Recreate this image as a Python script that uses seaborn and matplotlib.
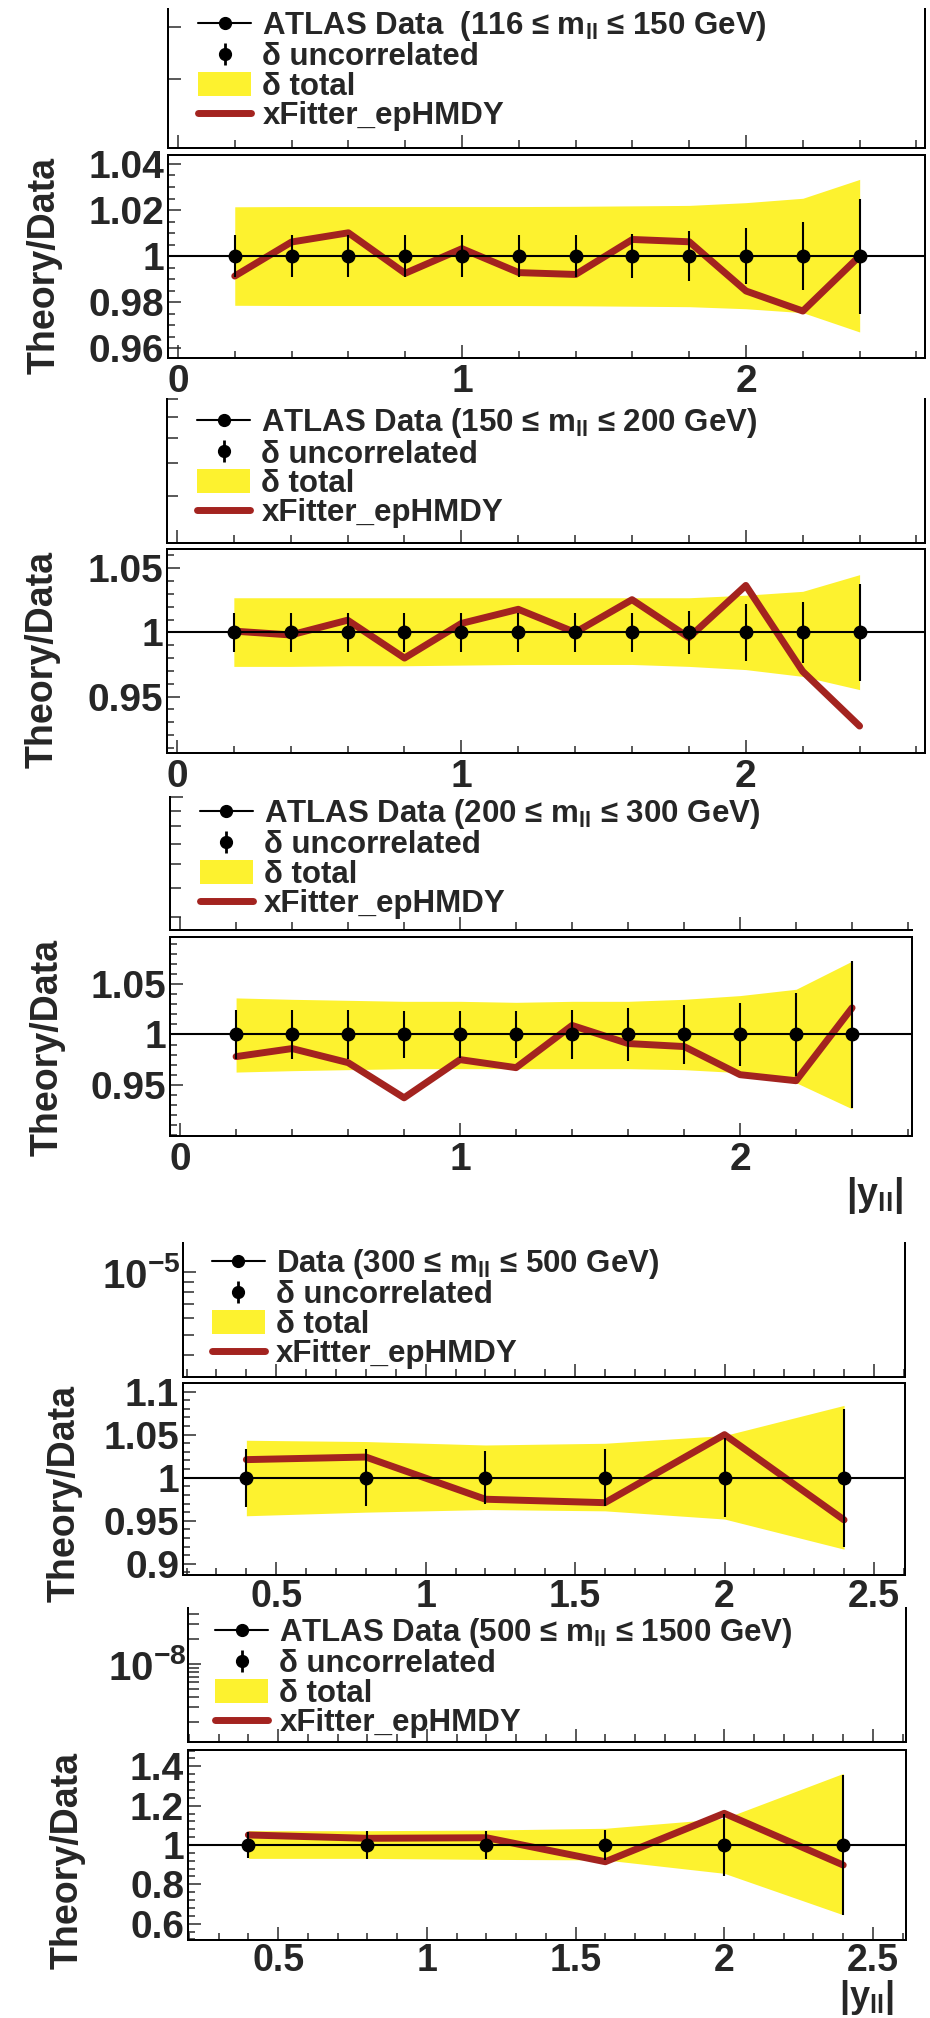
import numpy as np
import pandas as pd
import matplotlib
matplotlib.use("Agg")
import matplotlib.pyplot as plt
import seaborn as sns
from matplotlib.lines import Line2D
from matplotlib.patches import Patch
from matplotlib.legend_handler import HandlerTuple
from matplotlib.ticker import MultipleLocator, FixedLocator, LogLocator, NullFormatter, FuncFormatter, NullLocator

sns.set_style("ticks")
plt.rcParams["font.family"] = ["Liberation Sans", "DejaVu Sans"]
plt.rcParams["font.weight"] = "bold"
plt.rcParams["mathtext.default"] = "regular"

# ---------------- data ----------------
x_fine = [0.2, 0.4, 0.6, 0.8, 1.0, 1.2, 1.4, 1.6, 1.8, 2.0, 2.2, 2.4]
x_coarse = [0.4, 0.8, 1.2, 1.6, 2.0, 2.4]

theory1 = [0.9913, 1.0061, 1.0101, 0.9925, 1.0032, 0.9928, 0.9920, 1.0072, 1.0062, 0.9848, 0.9761, 1.0000]
band1_hi = [1.0214, 1.0215, 1.0215, 1.0215, 1.0215, 1.0215, 1.0216, 1.0218, 1.0220, 1.0232, 1.0251, 1.0333]
band1_lo = [0.9786, 0.9785, 0.9785, 0.9785, 0.9785, 0.9785, 0.9784, 0.9782, 0.9780, 0.9771, 0.9754, 0.9670]
unc1 = [0.009, 0.009, 0.009, 0.009, 0.009, 0.009, 0.009, 0.0095, 0.011, 0.0123, 0.0148, 0.025]

theory2 = [1.001, 0.998, 1.0095, 0.980, 1.007, 1.018, 1.000, 1.0255, 0.996, 1.0366, 0.9696, 0.927]
band2_hi = [1.027, 1.027, 1.027, 1.027, 1.027, 1.027, 1.027, 1.027, 1.027, 1.029, 1.032, 1.045]
band2_lo = [0.9735, 0.9735, 0.974, 0.974, 0.9745, 0.975, 0.975, 0.975, 0.9735, 0.971, 0.9657, 0.9554]
unc2 = [0.0152, 0.0152, 0.0152, 0.015, 0.015, 0.015, 0.015, 0.015, 0.017, 0.022, 0.024, 0.038]

theory3 = [0.978, 0.986, 0.972, 0.937, 0.975, 0.967, 1.009, 0.991, 0.988, 0.960, 0.954, 1.0265]
band3_hi = [1.0364, 1.035, 1.034, 1.033, 1.033, 1.032, 1.033, 1.033, 1.035, 1.0387, 1.045, 1.073]
band3_lo = [0.9626, 0.964, 0.965, 0.966, 0.966, 0.966, 0.966, 0.966, 0.965, 0.962, 0.952, 0.926]
unc3 = [0.024, 0.024, 0.024, 0.023, 0.023, 0.023, 0.024, 0.026, 0.029, 0.031, 0.041, 0.073]

theory4 = [1.021, 1.024, 0.975, 0.971, 1.050, 0.951]
band4_hi = [1.0435, 1.042, 1.038, 1.040, 1.049, 1.084]
band4_lo = [0.9558, 0.960, 0.963, 0.9615, 0.952, 0.917]
unc4 = [0.0335, 0.033, 0.031, 0.033, 0.046, 0.080]

theory5 = [1.051, 1.034, 1.037, 0.915, 1.161, 0.898]
band5_hi = [1.0727, 1.0727, 1.076, 1.085, 1.135, 1.364]
band5_lo = [0.932, 0.932, 0.927, 0.924, 0.856, 0.645]
unc5 = [0.064, 0.070, 0.072, 0.076, 0.160, 0.358]

legend_labels = [
    "ATLAS Data  (116 \u2264 m$_{ll}$ \u2264 150 GeV)",
    "ATLAS Data (150 \u2264 m$_{ll}$ \u2264 200 GeV)",
    "ATLAS Data (200 \u2264 m$_{ll}$ \u2264 300 GeV)",
    "Data (300 \u2264 m$_{ll}$ \u2264 500 GeV)",
    "ATLAS Data (500 \u2264 m$_{ll}$ \u2264 1500 GeV)",
]
ratio_ticks = [
    [0.96, 0.98, 1.0, 1.02, 1.04],
    [0.95, 1.0, 1.05],
    [0.95, 1.0, 1.05],
    [0.9, 0.95, 1.0, 1.05, 1.1],
    [0.6, 0.8, 1.0, 1.2, 1.4],
]
ratio_tick_labels = [
    ["0.96", "0.98", "1", "1.02", "1.04"],
    ["0.95", "1", "1.05"],
    ["0.95", "1", "1.05"],
    ["0.9", "0.95", "1", "1.05", "1.1"],
    ["0.6", "0.8", "1", "1.2", "1.4"],
]
upper_decades = [None, None, None, 1e-5, 1e-8]
x_tick_vals_a = [0, 1, 2]
x_tick_labs_a = ["0", "1", "2"]
x_tick_vals_b = [0.5, 1.0, 1.5, 2.0, 2.5]
x_tick_labs_b = ["0.5", "1", "1.5", "2", "2.5"]

panels = [
    dict(x=x_fine, th=theory1, hi=band1_hi, lo=band1_lo, unc=unc1),
    dict(x=x_fine, th=theory2, hi=band2_hi, lo=band2_lo, unc=unc2),
    dict(x=x_fine, th=theory3, hi=band3_hi, lo=band3_lo, unc=unc3),
    dict(x=x_coarse, th=theory4, hi=band4_hi, lo=band4_lo, unc=unc4),
    dict(x=x_coarse, th=theory5, hi=band5_hi, lo=band5_lo, unc=unc5),
]

# ---------------- layout / style ----------------
W, H = 930, 2018
DPI = 100
YELLOW = "#fdf22f"
RED = "#a3231f"
PX = 72.0 / DPI  # points per pixel

geom = [
    dict(xl=168, xr=925, up=(9, 148), lo=(155, 358), xlim=(-0.035, 2.63), ylim=(0.9557, 1.0439),
         ymin=0.005, xmaj=1, xmin=0.2, lab_y=45, leg=(0.04, 1.0), xpad=6, xfs=28),
    dict(xl=167, xr=925, up=(399, 543), lo=(549, 753), xlim=(-0.035, 2.63), ylim=(0.906, 1.065),
         ymin=0.01, xmaj=1, xmin=0.2, lab_y=43, leg=(0.04, 0.95), xpad=6, xfs=28),
    dict(xl=170, xr=912, up=(797, 930), lo=(937, 1136), xlim=(-0.036, 2.614), ylim=(0.899, 1.097),
         ymin=0.01, xmaj=1, xmin=0.2, lab_y=48, leg=(0.04, 1.0), xpad=6, xfs=28),
    dict(xl=183, xr=905, up=(1243, 1377), lo=(1383, 1575), xlim=(0.188, 2.604), ylim=(0.887, 1.110),
         ymin=0.01, xmaj=0.5, xmin=0.1, lab_y=65, leg=(0.04, 0.97), xpad=4, xfs=27),
    dict(xl=188, xr=906, up=(1608, 1742), lo=(1750, 1940), xlim=(0.197, 2.611), ylim=(0.517, 1.483),
         ymin=0.04, xmaj=0.5, xmin=0.1, lab_y=68, leg=(0.038, 0.94), xpad=3, xfs=27),
]


def rect(xl, xr, yt, yb):
    return [xl / W, 1 - yb / H, (xr - xl) / W, (yb - yt) / H]


fig = plt.figure(figsize=(W / DPI, H / DPI), dpi=DPI)
fig.patch.set_facecolor("white")

LW_FRAME = 2.0 * PX
TICK_FS = 28
LEG_FS = 22.5

for i, (p, g) in enumerate(zip(panels, geom)):
    # ---------- upper pad ----------
    au = fig.add_axes(rect(g["xl"], g["xr"], g["up"][0], g["up"][1]))
    au.set_xlim(*g["xlim"])
    for s in ["left", "bottom", "right"]:
        au.spines[s].set_linewidth(LW_FRAME)
        au.spines[s].set_color("black")
    au.spines["top"].set_visible(False)
    if i == 2:
        au.spines["right"].set_visible(False)
    au.xaxis.set_major_locator(MultipleLocator(g["xmaj"]))
    au.xaxis.set_minor_locator(MultipleLocator(g["xmin"]))
    au.xaxis.set_major_formatter(NullFormatter())
    if i == 0:
        au.set_ylim(0, 1)
        au.yaxis.set_major_locator(FixedLocator([0.496, 0.871]))
        au.yaxis.set_major_formatter(NullFormatter())
        au.yaxis.set_minor_locator(NullLocator())
    elif i in (1, 2):
        au.set_yscale("log")
        au.set_ylim((2.0, 7.0) if i == 1 else (0.363, 1.0))
        au.yaxis.set_major_locator(LogLocator(base=10, numticks=5))
        au.yaxis.set_minor_locator(LogLocator(base=10, subs=np.arange(2, 10), numticks=20))
        au.yaxis.set_major_formatter(NullFormatter())
        au.yaxis.set_minor_formatter(NullFormatter())
    else:
        au.set_yscale("log")
        au.set_ylim((3.13e-6, 1.38e-5) if i == 3 else (1.15e-9, 4.73e-8))
        au.yaxis.set_major_locator(FixedLocator([upper_decades[i]]))
        au.yaxis.set_minor_locator(LogLocator(base=10, subs=np.arange(2, 10), numticks=20))
        au.yaxis.set_major_formatter(FuncFormatter(lambda v, pos: "$10^{%d}$" % int(round(np.log10(v)))))
        au.yaxis.set_minor_formatter(NullFormatter())
    au.tick_params(axis="both", which="both", direction="in", top=False, right=False,
                   width=1.5 * PX, labelsize=29, pad=2 * PX)
    au.tick_params(axis="both", which="major", length=13 * PX)
    au.tick_params(axis="both", which="minor", length=8 * PX)
    au.tick_params(axis="y", which="minor", length=11 * PX)
    au.patch.set_alpha(0)

    handles = [
        Line2D([], [], color="black", lw=1.5, marker="o", ms=8.5),
        (Line2D([], [], color="black", ls="none", marker="|", ms=16, mew=2.0),
         Line2D([], [], color="black", ls="none", marker="o", ms=8.5)),
        Patch(facecolor=YELLOW, edgecolor="none"),
        Line2D([], [], color=RED, lw=5),
    ]
    labels = [legend_labels[i], "\u03b4 uncorrelated", "\u03b4 total", "xFitter_epHMDY"]
    au.legend(handles, labels, loc="upper left", bbox_to_anchor=g["leg"], frameon=False,
              fontsize=LEG_FS, handlelength=1.7, handleheight=0.78, handletextpad=0.35,
              labelspacing=-0.02, borderpad=0, borderaxespad=0,
              handler_map={tuple: HandlerTuple(ndivide=1)})

    # ---------- lower (ratio) pad ----------
    al = fig.add_axes(rect(g["xl"], g["xr"], g["lo"][0], g["lo"][1]))
    df = pd.DataFrame({"x": p["x"], "theory": p["th"], "lo": p["lo"], "hi": p["hi"], "unc": p["unc"]})
    al.fill_between(df["x"], df["lo"], df["hi"], color=YELLOW, lw=0, zorder=1)
    sns.lineplot(data=df, x="x", y="theory", ax=al, color=RED, lw=5, zorder=3,
                 sort=False, legend=False)
    al.axhline(1.0, color="black", lw=1.5, zorder=4)
    al.errorbar(df["x"], np.ones(len(df)), yerr=df["unc"], fmt="o", color="black",
                ms=9, elinewidth=1.5, capsize=0, zorder=5)
    al.set_xlim(*g["xlim"])
    al.set_ylim(*g["ylim"])
    al.set_xlabel("")
    al.set_ylabel("")
    for s in al.spines.values():
        s.set_linewidth(LW_FRAME)
        s.set_color("black")
    al.yaxis.set_major_locator(FixedLocator(ratio_ticks[i]))
    al.set_yticklabels(ratio_tick_labels[i])
    al.yaxis.set_minor_locator(MultipleLocator(g["ymin"]))
    if i < 3:
        al.xaxis.set_major_locator(FixedLocator(x_tick_vals_a))
        al.set_xticklabels(x_tick_labs_a)
    else:
        al.xaxis.set_major_locator(FixedLocator(x_tick_vals_b))
        al.set_xticklabels(x_tick_labs_b)
    al.xaxis.set_minor_locator(MultipleLocator(g["xmin"]))
    al.tick_params(axis="both", which="both", direction="in", top=False, right=False,
                   width=1.5 * PX)
    al.tick_params(axis="y", labelsize=TICK_FS, pad=4 * PX)
    al.tick_params(axis="x", labelsize=g["xfs"], pad=g["xpad"] * PX)
    al.tick_params(axis="both", which="major", length=13 * PX)
    al.tick_params(axis="both", which="minor", length=7 * PX)

    fig.text(g["lab_y"] / W, 1 - (g["lo"][0] + 2) / H, "Theory/Data", rotation=90,
             ha="center", va="top", fontsize=27, fontweight="bold")

fig.text(874 / W, 1 - 1195 / H, "|y$_{ll}$|", ha="center", va="center", fontsize=27, fontweight="bold")
fig.text(866 / W, 1 - 2017 / H, "|y$_{ll}$|", ha="center", va="bottom", fontsize=26, fontweight="bold")

fig.savefig("out.png", dpi=DPI, facecolor="white")
